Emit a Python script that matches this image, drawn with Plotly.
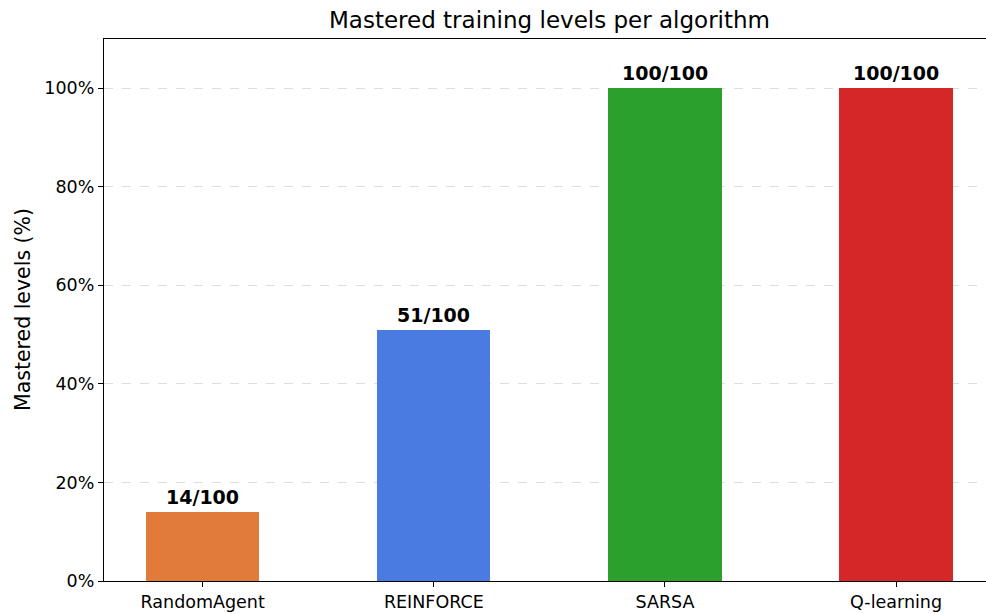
import plotly.graph_objects as go

# Mastered training levels per algorithm
algorithms = ["RandomAgent", "REINFORCE", "SARSA", "Q-learning"]
mastered = [14, 51, 100, 100]
total_levels = 100
bar_colors = ["#E07B39", "#4A7BE0", "#2CA02C", "#D62728"]
y_ticks = [0, 20, 40, 60, 80, 100]
y_tick_text = [f"{t}%" for t in y_ticks]

percent = [m / total_levels * 100 for m in mastered]
labels = [f"{m}/{total_levels}" for m in mastered]

FONT = "DejaVu Sans"

fig = go.Figure()
fig.add_trace(go.Bar(
    x=algorithms,
    y=percent,
    width=0.49,
    marker=dict(color=bar_colors, line=dict(width=0)),
    hoverinfo="skip",
))

# value labels above each bar
for name, p, lab in zip(algorithms, percent, labels):
    fig.add_annotation(
        x=name, y=p, text=f"<b>{lab}</b>", showarrow=False,
        xref="x", yref="y", yanchor="bottom", yshift=2,
        font=dict(family=FONT, size=19, color="black"),
    )

# y-axis title
fig.add_annotation(
    x=-0.0918, y=0.5, xref="paper", yref="paper",
    text="Mastered levels (%)", textangle=-90, showarrow=False,
    xanchor="center", yanchor="middle",
    font=dict(family=FONT, size=20.5, color="black"),
)

fig.update_layout(
    width=986, height=614,
    margin=dict(l=104, r=0, t=39, b=33),
    paper_bgcolor="white", plot_bgcolor="white",
    showlegend=False,
    title=dict(
        text="Mastered training levels per algorithm",
        x=549.5 / 986, xref="container", xanchor="center",
        y=1 - 20 / 614, yref="container", yanchor="middle",
        font=dict(family=FONT, size=23, color="black"),
    ),
    font=dict(family=FONT, color="black"),
    bargap=0,
)

fig.update_xaxes(
    type="category",
    range=[-0.427, 3.389],
    showline=True, linecolor="black", linewidth=1.3, mirror=True,
    ticks="outside", ticklen=5, tickwidth=1.2, tickcolor="black",
    tickfont=dict(family=FONT, size=17.5, color="black"),
    showgrid=False, zeroline=False,
)
fig.update_yaxes(
    range=[0, 110],
    tickmode="array", tickvals=y_ticks, ticktext=y_tick_text,
    showline=True, linecolor="black", linewidth=1.3, mirror=False,
    ticks="outside", ticklen=5, tickwidth=1.2, tickcolor="black",
    tickfont=dict(family=FONT, size=17.5, color="black"),
    showgrid=True, gridcolor="#DEDEDE", griddash="dash", gridwidth=1,
    zeroline=False,
)

fig.write_html("out.html")
